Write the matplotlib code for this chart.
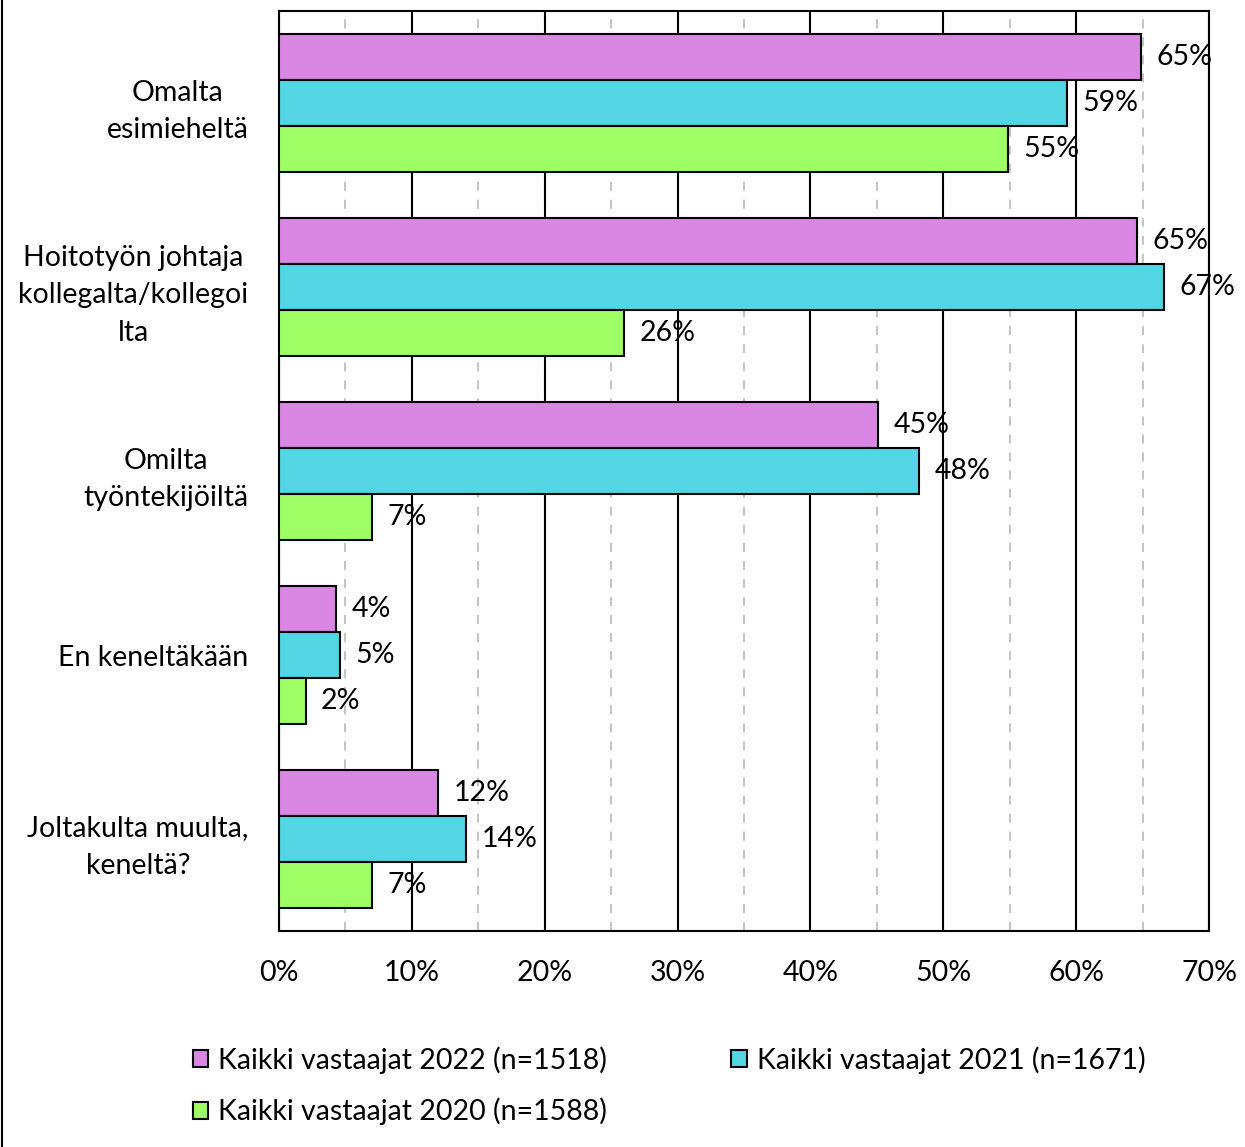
import matplotlib
matplotlib.use('Agg')
import matplotlib.pyplot as plt
from matplotlib.lines import Line2D
from matplotlib.ticker import MultipleLocator, PercentFormatter
import numpy as np

plt.rcParams['font.family'] = ['Lato', 'DejaVu Sans']

categories = ["Omalta\nesimieheltä",
              "Hoitotyön johtaja\nkollegalta/kollegoi\nlta",
              "Omilta\ntyöntekijöiltä",
              "En keneltäkään",
              "Joltakulta muulta,\nkeneltä?"]
series = ["Kaikki vastaajat 2022 (n=1518)",
          "Kaikki vastaajat 2021 (n=1671)",
          "Kaikki vastaajat 2020 (n=1588)"]
v2022 = [64.9, 64.6, 45.1, 4.3, 12.0]
v2021 = [59.3, 66.6, 48.2, 4.6, 14.1]
v2020 = [54.9, 26.0, 7.0, 2.0, 7.0]
colors = ["#DA87E3", "#53D5E3", "#9EFF64"]

fs = 20.5

fig = plt.figure(figsize=(12.45, 11.47), dpi=100)
ax = fig.add_axes([0.2241, 0.1883, 0.747, 0.8021])

y = np.arange(len(categories))
h = 0.25
bars = []
for i, (vals, col, name) in enumerate(zip([v2022, v2021, v2020], colors, series)):
    b = ax.barh(y + (i - 1) * h, vals, height=h, color=col, edgecolor='black',
                linewidth=1.5, label=name, zorder=3)
    bars.append(b)
    for yy, v in zip(y + (i - 1) * h, vals):
        ax.annotate(f"{v:.0f}%", (v, yy), xytext=(11, 0), textcoords='offset points',
                    ha='left', va='center', fontsize=fs, zorder=4)

ax.set_xlim(0, 70)
ax.set_ylim(len(categories) - 0.5, -0.5)
ax.xaxis.set_major_locator(MultipleLocator(10))
ax.xaxis.set_minor_locator(MultipleLocator(5))
ax.xaxis.set_major_formatter(PercentFormatter(decimals=0))
ax.grid(axis='x', which='major', color='black', linewidth=1.5, zorder=0)
ax.grid(axis='x', which='minor', color='#BFBFBF', linewidth=1.3, linestyle=(0, (5, 5)), zorder=0)
ax.set_axisbelow(True)
ax.set_yticks(y)
ax.set_yticklabels(categories, multialignment='center', linespacing=1.55)
ax.tick_params(axis='both', which='both', length=0, labelsize=fs)
ax.tick_params(axis='y', pad=22)
ax.tick_params(axis='x', pad=21)
for s in ax.spines.values():
    s.set_linewidth(1.5)

handles = [bars[0], bars[2], bars[1]]
labels = [series[0], series[2], series[1]]
fig.legend(handles, labels, loc='upper left', bbox_to_anchor=(0.1455, 0.098),
           ncol=2, frameon=False, fontsize=fs, handlelength=0.55, handleheight=0.55,
           handletextpad=0.35, columnspacing=4.35, labelspacing=0.85, borderaxespad=0)

fig.add_artist(Line2D([0.0015, 0.0015], [0, 1], color='black', linewidth=1.5,
                      transform=fig.transFigure))

plt.savefig("out.png", dpi=100)
